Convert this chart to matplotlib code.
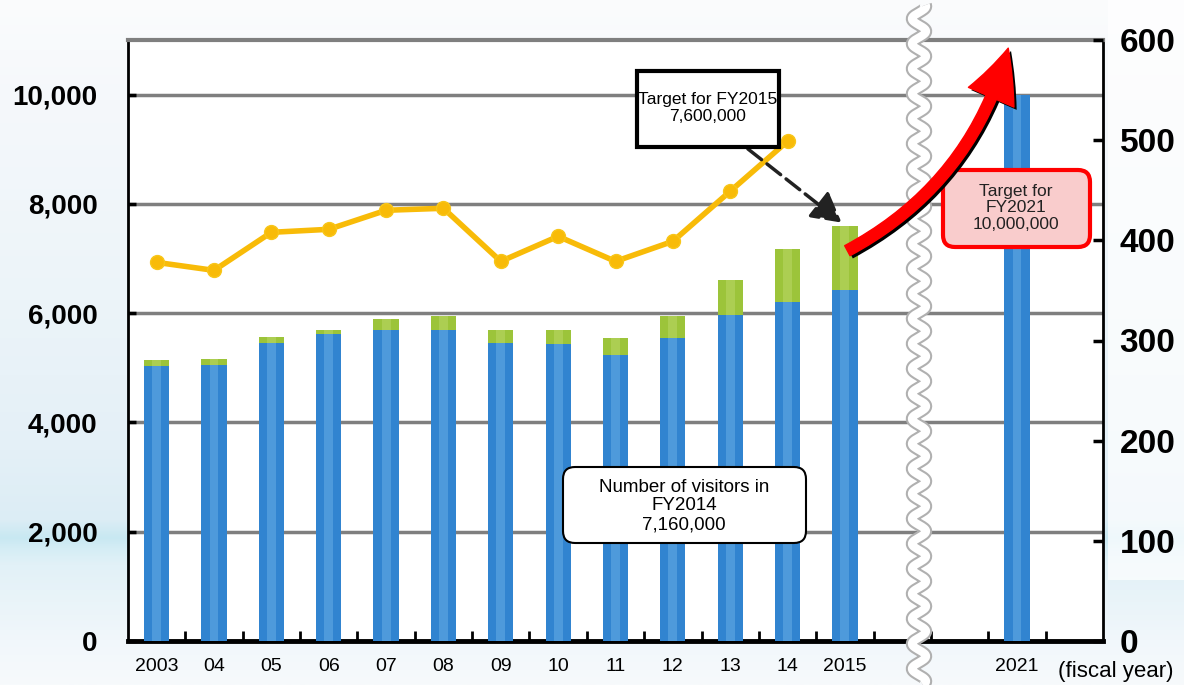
import numpy as np
import matplotlib.pyplot as plt
from matplotlib.patches import FancyArrowPatch, FancyBboxPatch
import matplotlib.patheffects as pe
from matplotlib.lines import Line2D

plt.rcParams['font.family'] = ['Liberation Sans', 'DejaVu Sans']

# data (thousands of visitors)
years = ['2003', '04', '05', '06', '07', '08', '09', '10', '11', '12', '13', '14', '2015']
xpos = np.arange(len(years))
domestic = [5030, 5050, 5450, 5610, 5700, 5700, 5450, 5430, 5240, 5540, 5960, 6200, 6420]
total = [5140, 5170, 5560, 5700, 5890, 5940, 5700, 5700, 5540, 5940, 6600, 7180, 7600]
foreign = [t - d for t, d in zip(total, domestic)]
x2021 = 15
target2021 = 10000

# line values (right axis)
line_years = xpos[:12]
line_vals = [378, 370, 408, 411, 430, 432, 379, 404, 379, 399, 449, 499]

fig = plt.figure(figsize=(11.84, 6.85), dpi=100)

# sky / sea background
bg = fig.add_axes([0, 0, 1, 1], zorder=-10)
ys = np.array([0, 100, 300, 450, 520, 538, 548, 565, 640, 685]) / 685
cols = np.array([[251, 252, 253], [245, 248, 251], [236, 244, 249], [228, 240, 247],
                 [220, 237, 245], [200, 232, 242], [212, 237, 245], [226, 241, 247],
                 [241, 247, 251], [247, 250, 252]]) / 255
yy = np.linspace(0, 1, 685)
grad = np.stack([np.interp(yy, ys, cols[:, i]) for i in range(3)], axis=-1)
bg.imshow(grad[:, None, :], aspect='auto', extent=[0, 1, 1, 0])
bg.set_xlim(0, 1)
bg.set_ylim(1, 0)
bg.axis('off')
bg.add_patch(plt.Rectangle((1108 / 1184, 0.0), 76 / 1184, 580 / 685, color='white', alpha=0.7, lw=0))

ax = fig.add_axes([128 / 1184, 1 - 641 / 685, 975 / 1184, 601 / 685])
ax.set_facecolor('white')
ax.set_xlim(-0.5, 16.5)
ax.set_ylim(0, 11000)

# bars
blue = '#3184d0'
green = '#9cc43a'
w = 0.44
ax.bar(xpos, domestic, w, color=blue, zorder=3)
ax.bar(xpos, foreign, w, bottom=domestic, color=green, zorder=3)
ax.bar(xpos, domestic, w * 0.35, color='#6cb0e6', alpha=0.5, zorder=3)
ax.bar(xpos, foreign, w * 0.35, bottom=domestic, color='#bcd86a', alpha=0.5, zorder=3)
ax.bar([x2021], [target2021], w, color=blue, zorder=3)
ax.bar([x2021], [target2021], w * 0.35, color='#6cb0e6', alpha=0.5, zorder=3)

# grid
for v in [2000, 4000, 6000, 8000, 10000]:
    ax.axhline(v, color='#7f7f7f', lw=2.5, zorder=1)

ax.set_yticks([0, 2000, 4000, 6000, 8000, 10000])
ax.set_yticklabels(['0', '2,000', '4,000', '6,000', '8,000', '10,000'],
                   fontsize=20, fontweight='bold')
ax.tick_params(axis='y', direction='in', length=6, width=2.5, pad=22)
ax.set_xticks(list(xpos) + [x2021])
ax.set_xticklabels(years + ['2021'], fontsize=14)
ax.tick_params(axis='x', length=0, pad=12)
ax.set_xticks([i + 0.5 for i in range(14)] + [14.5, 15.5], minor=True)
ax.tick_params(axis='x', which='minor', direction='in', length=7, width=2)

for s in ['left', 'right']:
    ax.spines[s].set_linewidth(2)
ax.spines['bottom'].set_linewidth(3.5)
ax.spines['top'].set_color('#7f7f7f')
ax.spines['top'].set_linewidth(3)

ax2 = ax.twinx()
ax2.set_ylim(0, 600)
ax2.set_yticks([0, 100, 200, 300, 400, 500, 600])
ax2.set_yticklabels(['0', '100', '200', '300', '400', '500', '600'], fontsize=24, fontweight='bold')
ax2.tick_params(axis='y', direction='in', length=7, width=2.5, pad=12)
ax2.plot(line_years, line_vals, color='#f8bb08', lw=4, marker='o', ms=10,
         markeredgecolor='#f8c61a', zorder=5)
for s in ax2.spines.values():
    s.set_visible(False)

# annotations (boxes placed in figure pixels / 100 = inches)
def px(x, y):
    return x / 100, (685 - y) / 100

fig.text(1116 / 1184, 1 - 672 / 685, '(fiscal year)', fontsize=16, ha='center', va='center')

fig.patches.append(FancyBboxPatch(px(637, 147), 1.42, 0.76, boxstyle='square,pad=0',
                                  transform=fig.dpi_scale_trans, fc='white', ec='black', lw=3,
                                  zorder=2))
fig.text(708 / 1184, 1 - 108 / 685, 'Target for FY2015\n7,600,000', ha='center', va='center',
         fontsize=12.5, linespacing=1.15, zorder=3)

ax2.annotate('', xy=(11.98, 416), xytext=(10.27, 493),
             arrowprops=dict(arrowstyle='-|>,head_length=1.0,head_width=0.55', color='#222222',
                             lw=2.5, linestyle=(0, (5, 2)), mutation_scale=18), zorder=6)

fig.patches.append(FancyBboxPatch(px(563, 543), 2.43, 0.76,
                                  boxstyle='round,pad=0,rounding_size=0.12',
                                  transform=fig.dpi_scale_trans, fc='white', ec='black', lw=1.5,
                                  zorder=2))
fig.text(684 / 1184, 1 - 506 / 685, 'Number of visitors in\nFY2014\n7,160,000', ha='center',
         va='center', fontsize=13.5, linespacing=1.12, zorder=3)

fig.patches.append(FancyBboxPatch(px(943, 247), 1.47, 0.77,
                                  boxstyle='round,pad=0,rounding_size=0.12',
                                  transform=fig.dpi_scale_trans, fc='#f9cccc', ec='#ff0000', lw=3,
                                  zorder=2))
fig.text(1016 / 1184, 1 - 208 / 685, 'Target for\nFY2021\n10,000,000', ha='center', va='center',
         fontsize=12.5, linespacing=1.1, color='#222222', zorder=3)

# axis break (wavy line)
yb = np.linspace(5, 685, 800)
xb = 919 + 7 * np.sin(yb * 2 * np.pi / 25)
brk_x = xb / 1184
brk_y = 1 - yb / 685
fig.add_artist(Line2D(brk_x, brk_y, color='#b0b0b0', lw=9, zorder=20, solid_capstyle='butt'))
fig.add_artist(Line2D(brk_x, brk_y, color='white', lw=6, zorder=21, solid_capstyle='butt'))

# red arrow drawn above the break
red_arrow = FancyArrowPatch((12.0, 7120), (14.86, 10900), transform=ax.transData,
                            connectionstyle='arc3,rad=0.22',
                            arrowstyle='simple,tail_width=0.24,head_width=1.05,head_length=1.1',
                            mutation_scale=34, color='#ff0000', zorder=30,
                            path_effects=[pe.SimplePatchShadow(offset=(2, -2), shadow_rgbFace='black',
                                                               alpha=1), pe.Normal()])
fig.add_artist(red_arrow)

fig.savefig('out.png', dpi=100)
